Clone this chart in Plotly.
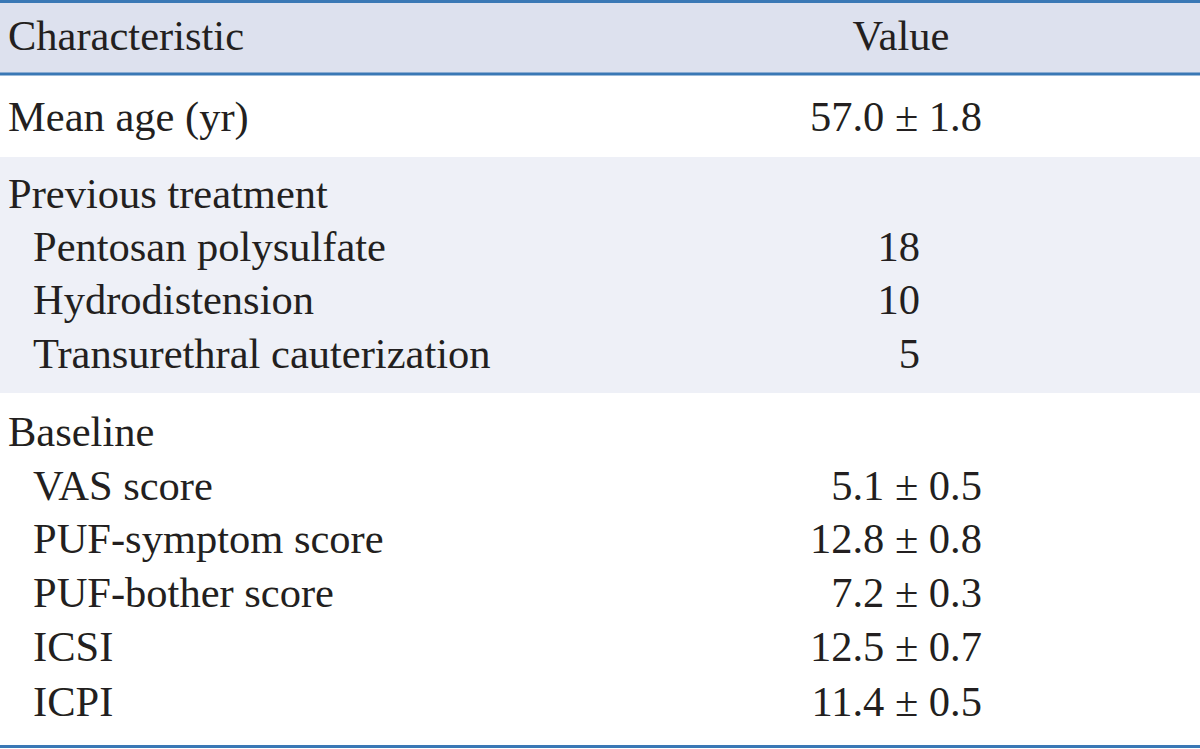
import plotly.graph_objects as go

# ---- data ----
header_labels = ["Characteristic", "Value"]
labels = ["Mean age (yr)", "Previous treatment", "Pentosan polysulfate", "Hydrodistension",
          "Transurethral cauterization", "Baseline", "VAS score", "PUF-symptom score",
          "PUF-bother score", "ICSI", "ICPI"]
values = ["57.0 ± 1.8", "", "18", "10", "5", "", "5.1 ± 0.5", "12.8 ± 0.8",
          "7.2 ± 0.3", "12.5 ± 0.7", "11.4 ± 0.5"]
indent = [0, 0, 1, 1, 1, 0, 1, 1, 1, 1, 1]

# ---- layout constants ----
W, H = 1200, 749
row_y = [120.5, 197.5, 250.5, 303.5, 357.5, 435.5, 489, 542.5, 596.5, 650.5, 705]
header_y = 39
x_label = [8, 33]
x_val_pm = 982
x_val_int = 920
x_header_val = 901
FONT = "Liberation Serif, Times New Roman, serif"
FS = 42.5
TXT = "#231f20"
LINE = "#3a78b5"
HEAD_FILL = "#dde1ee"
GROUP_FILL = "#eef0f7"

fig = go.Figure()

# header
fig.add_trace(go.Scatter(x=[x_label[0]], y=[header_y], text=[header_labels[0]], mode="text",
                         textposition="middle right", textfont=dict(family=FONT, size=FS, color=TXT),
                         hoverinfo="skip", showlegend=False))
fig.add_trace(go.Scatter(x=[x_header_val], y=[header_y], text=[header_labels[1]], mode="text",
                         textposition="middle center", textfont=dict(family=FONT, size=FS, color=TXT),
                         hoverinfo="skip", showlegend=False))

# labels
fig.add_trace(go.Scatter(x=[x_label[i] for i in indent], y=row_y, text=labels, mode="text",
                         textposition="middle right", textfont=dict(family=FONT, size=FS, color=TXT),
                         hoverinfo="skip", showlegend=False))

# values
vx = [x_val_pm if "±" in v else x_val_int for v in values]
fig.add_trace(go.Scatter(x=vx, y=row_y, text=values, mode="text",
                         textposition="middle left", textfont=dict(family=FONT, size=FS, color=TXT),
                         hoverinfo="skip", showlegend=False))

shapes = [
    dict(type="rect", xref="x", yref="y", x0=0, x1=W, y0=2, y1=73, fillcolor=HEAD_FILL, line_width=0, layer="below"),
    dict(type="rect", xref="x", yref="y", x0=0, x1=W, y0=157, y1=393, fillcolor=GROUP_FILL, line_width=0, layer="below"),
    dict(type="line", xref="x", yref="y", x0=0, x1=W, y0=1.5, y1=1.5, line=dict(color=LINE, width=3)),
    dict(type="line", xref="x", yref="y", x0=0, x1=W, y0=74, y1=74, line=dict(color=LINE, width=3)),
    dict(type="line", xref="x", yref="y", x0=0, x1=W, y0=746.5, y1=746.5, line=dict(color=LINE, width=3)),
]

fig.update_layout(
    width=W, height=H, margin=dict(l=0, r=0, t=0, b=0),
    paper_bgcolor="white", plot_bgcolor="white", shapes=shapes,
    xaxis=dict(range=[0, W], visible=False, fixedrange=True),
    yaxis=dict(range=[H, 0], visible=False, fixedrange=True),
    showlegend=False,
)

fig.write_html("out.html", config={"displayModeBar": False},
               post_script="document.body.style.margin='0';document.body.style.overflow='hidden';")
